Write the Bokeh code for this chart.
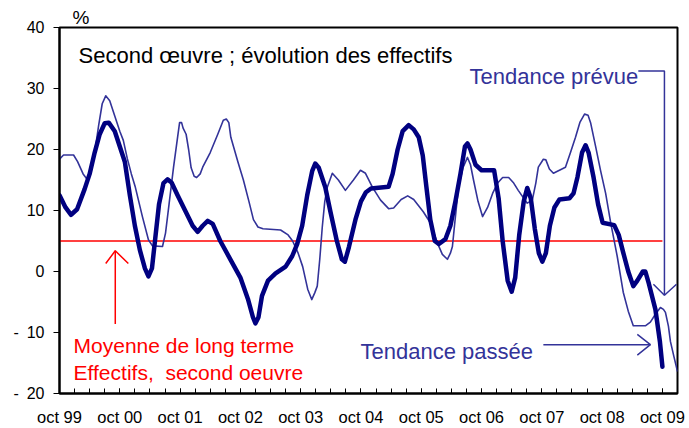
from bokeh.plotting import figure
from bokeh.models import Range1d, FixedTicker, Label
from bokeh.embed import file_html
from bokeh.resources import INLINE

# ---- data (months since oct 1999, % change of employment) ----
months_passee = [0, 1.2, 2.3, 3.5, 5.0, 6.0, 7.0, 8.0, 9.0, 9.8, 11.0, 12.0, 13.0, 14.0, 15.0, 16.0,
                 17.0, 17.7, 18.4, 19.0, 19.8, 20.7, 21.5, 22.3, 23.5, 25.0, 26.5, 27.5, 28.5, 29.5,
                 30.5, 32.0, 34.0, 36.0, 37.5, 38.5, 39.0, 39.6, 40.3, 41.5, 43.0, 45.0, 46.3, 47.3,
                 48.3, 49.3, 50.3, 50.9, 51.6, 52.9, 54.0, 55.2, 56.2, 56.8, 57.6, 58.9, 60.0, 61.0,
                 62.0, 65.5, 66.3, 67.3, 68.3, 69.5, 70.5, 71.5, 72.3, 73.0, 73.8, 74.7, 75.5, 76.8,
                 77.8, 78.8, 79.8, 80.7, 81.2, 81.8, 82.8, 84.0, 86.5, 87.4, 88.2, 89.2, 90.0, 90.7,
                 91.5, 92.4, 93.1, 93.8, 94.6, 95.4, 96.1, 96.8, 97.6, 98.5, 99.5, 101.5, 102.3,
                 103.1, 104.0, 104.7, 105.3, 106.3, 107.2, 108.1, 110.4, 111.3, 112.2, 113.2, 114.2,
                 115.0, 116.1, 116.6, 117.3, 118.6, 119.5, 120.0]
tendance_passee = [12.5, 10.5, 9.3, 10.2, 13.5, 16.0, 19.5, 22.5, 24.3, 24.4, 23.0, 20.5, 18.0, 12.5,
                   7.5, 3.5, 0.5, -0.8, 0.5, 5.0, 11.0, 14.5, 15.1, 14.6, 12.5, 10.0, 7.5, 6.5, 7.5,
                   8.3, 7.8, 5.0, 2.0, -1.0, -4.5, -7.5, -8.5, -7.5, -4.0, -1.5, -0.3, 0.8, 2.5, 4.5,
                   7.5, 12.5, 16.5, 17.7, 17.0, 13.8, 9.5, 5.0, 2.0, 1.6, 4.0, 8.5, 11.5, 13.0,
                   13.6, 13.9, 16.0, 20.0, 23.0, 24.0, 23.3, 22.0, 19.0, 14.0, 8.5, 5.0, 4.5, 5.3,
                   7.5, 11.5, 16.0, 20.5, 21.0, 20.0, 17.5, 16.6, 16.6, 12.0, 5.0, -1.5, -3.3, -1.0,
                   6.0, 11.5, 13.7, 12.0, 7.0, 3.0, 1.6, 3.0, 7.5, 10.5, 11.8, 12.0, 12.8,
                   15.5, 19.5, 20.7, 19.5, 15.4, 11.0, 8.0, 7.6, 6.0, 3.1, 0.0, -2.4,
                   -1.5, 0.0, 0.0, -2.0, -6.2, -11.5, -15.6]

months_prevue = [0, 0.8, 2.8, 3.6, 4.7, 5.6, 6.3, 7.0, 7.8, 8.5, 9.2, 10.0, 11.0, 12.0, 12.7, 13.5,
                 14.3, 15.1, 16.5, 17.7, 18.5, 20.5, 21.1, 21.8, 22.7, 23.5, 23.9, 24.3, 24.6, 25.2,
                 25.7, 26.2, 26.8, 27.3, 28.0, 28.5, 30.0, 31.5, 32.6, 33.2, 33.7, 34.1, 35.5, 36.6,
                 37.7, 38.6, 39.5, 40.5, 44.0, 45.5, 46.4, 47.5, 48.4, 49.4, 50.2, 50.8, 51.3, 51.8,
                 52.3, 52.8, 53.3, 54.3, 55.5, 56.9, 58.5, 59.9, 60.9, 62.3, 63.9, 65.5, 66.5, 68.0,
                 69.3, 70.5, 72.4, 73.8, 75.2, 76.2, 77.2, 77.8, 78.2, 78.8, 79.4, 80.3, 81.2, 81.8,
                 82.4, 83.3, 84.2, 85.2, 86.2, 87.2, 88.2, 89.4, 90.4, 91.3, 93.1, 94.1, 94.8, 95.3,
                 96.3, 96.8, 97.5, 98.3, 100.7, 101.7, 102.7, 103.6, 104.5, 105.2, 105.7, 106.7,
                 107.7, 108.7, 109.7, 111.0, 112.2, 113.2, 114.2, 116.6, 117.6, 118.6, 119.6, 120.2,
                 120.6, 121.2, 121.6, 122.3, 123.0]
tendance_prevue = [18.4, 19.1, 19.1, 18.0, 16.0, 15.0, 16.5, 19.5, 24.0, 27.5, 28.8, 28.0, 25.5, 23.0,
                   21.5, 18.5, 16.0, 13.8, 9.0, 5.2, 4.2, 4.1, 6.3, 11.0, 17.1, 22.0, 24.4, 24.4, 23.5,
                   22.5, 20.0, 17.0, 15.6, 15.4, 16.0, 17.1, 19.5, 22.5, 24.8, 25.0, 24.4, 22.0, 18.0,
                   15.0, 11.5, 8.5, 7.3, 7.0, 6.8, 6.0, 5.0, 3.0, 0.8, -2.9, -4.6, -3.5, -2.4, 2.0,
                   7.3, 11.5, 13.8, 16.1, 15.0, 13.3, 15.0, 16.6, 16.1, 13.8, 11.7, 10.3, 10.4, 11.8,
                   12.4, 11.8, 9.8, 8.0, 4.7, 2.8, 2.0, 3.0, 4.1, 9.0, 13.8, 17.0, 18.7, 17.5,
                   15.0, 11.5, 9.0, 10.5, 12.8, 14.5, 15.4, 15.4, 14.5, 13.3, 11.2, 11.7, 14.5, 17.1,
                   18.4, 18.3, 16.8, 16.1, 17.1, 19.5, 22.0, 24.5, 25.8, 25.6, 24.4, 20.5,
                   16.5, 12.8, 8.0, 2.5, -3.4, -6.5, -8.9, -8.9, -8.3, -7.0, -5.9, -6.2,
                   -6.7, -9.0, -11.5, -14.0, -16.4]

moyenne_long_terme = 5.0

x_tick_pos = [0, 12, 24, 36, 48, 60, 72, 84, 96, 108, 120]
x_tick_labels = ["oct 99", "oct 00", "oct 01", "oct 02", "oct 03", "oct 04",
                 "oct 05", "oct 06", "oct 07", "oct 08", "oct 09"]
y_tick_pos = [-20, -10, 0, 10, 20, 30, 40]
y_tick_labels = ["-\u2002" + "20", "-\u2002" + "10", "0", "10", "20", "30", "40"]

FONT = "Liberation Sans"
NAVY = "#000080"
BLUE = "#333399"
RED = "#FF0000"

p = figure(width=689, height=428, output_backend="svg", toolbar_location=None,
           x_range=Range1d(0, 123), y_range=Range1d(-20, 40),
           min_border_left=59, min_border_right=12, min_border_top=27, min_border_bottom=34,
           background_fill_color="white", border_fill_color="white")
p.outline_line_color = "black"
p.outline_line_width = 2
p.xgrid.visible = False
p.ygrid.visible = False

# "%" unit shown as a left-aligned title just above the frame
p.title.text = "%"
p.title.align = "left"
p.title.offset = 13
p.title.standoff = 0
p.title.text_font = FONT
p.title.text_font_size = "19px"
p.title.text_font_style = "normal"
p.title.text_color = "black"

# axes
p.xaxis.ticker = FixedTicker(ticks=x_tick_pos, minor_ticks=list(range(0, 121, 3)))
p.xaxis.major_label_overrides = {t: l for t, l in zip(x_tick_pos, x_tick_labels)}
p.xaxis.major_tick_in = 5
p.xaxis.major_tick_out = 0
p.xaxis.minor_tick_in = 5
p.xaxis.minor_tick_out = 0
p.xaxis.major_label_standoff = 14
p.xaxis.major_label_text_font_size = "16.5px"

p.yaxis.ticker = FixedTicker(ticks=y_tick_pos, minor_ticks=[])
p.yaxis.major_label_overrides = {t: l for t, l in zip(y_tick_pos, y_tick_labels)}
p.yaxis.major_tick_in = 0
p.yaxis.major_tick_out = 6
p.yaxis.major_label_standoff = 9
p.yaxis.major_label_text_font_size = "16px"

for ax in (p.xaxis, p.yaxis):
    ax.axis_line_width = 2
    ax.axis_line_color = "black"
    ax.major_tick_line_color = "black"
    ax.minor_tick_line_color = "black"
    ax.major_tick_line_width = 1
    ax.minor_tick_line_width = 1
    ax.major_label_text_font = FONT
    ax.major_label_text_color = "black"

# mean line
p.line([months_passee[0], months_passee[-1]], [moyenne_long_terme, moyenne_long_terme],
       line_color=RED, line_width=1.5)

# series
p.line(months_prevue, tendance_prevue, line_color=BLUE, line_width=1.6, line_join="round")
p.line(months_passee, tendance_passee, line_color=NAVY, line_width=4.5, line_join="round",
       line_cap="round")

# annotation arrows (data coordinates)
red_arrow_x = [[11.1, 11.1], [9.2, 11.1, 13.7]]
red_arrow_y = [[-8.6, 3.4], [1.3, 3.4, 1.3]]
p.multi_line(red_arrow_x, red_arrow_y, line_color=RED, line_width=1.5)

passee_arrow_x = [[96.3, 117.6], [115.0, 117.6, 115.0]]
passee_arrow_y = [[-12.0, -12.0], [-10.3, -12.0, -13.7]]
prevue_arrow_x = [[115.2, 120.4, 120.4], [118.2, 120.4, 122.8]]
prevue_arrow_y = [[32.85, 32.85, -3.9], [-2.1, -3.9, -2.1]]
p.multi_line(passee_arrow_x + prevue_arrow_x, passee_arrow_y + prevue_arrow_y,
             line_color=BLUE, line_width=1.5)

# texts
def add_text(x, y, text, color, size, align="left"):
    p.add_layout(Label(x=x, y=y, text=text, text_color=color, text_font=FONT,
                       text_font_size=size, text_baseline="alphabetic", text_align=align))

add_text(3.8, 35.45, "Second œuvre ; évolution des effectifs", "black", "22px")
add_text(81.6, 32.0, "Tendance prévue", BLUE, "22px")
add_text(59.9, -13.1, "Tendance passée", BLUE, "22px")
add_text(2.8, -12.1, "Moyenne de long terme", RED, "21px")
add_text(2.8, -16.6, "Effectifs,\u00a0 second oeuvre", RED, "21px")

open("out.html", "w").write(file_html(p, INLINE))
